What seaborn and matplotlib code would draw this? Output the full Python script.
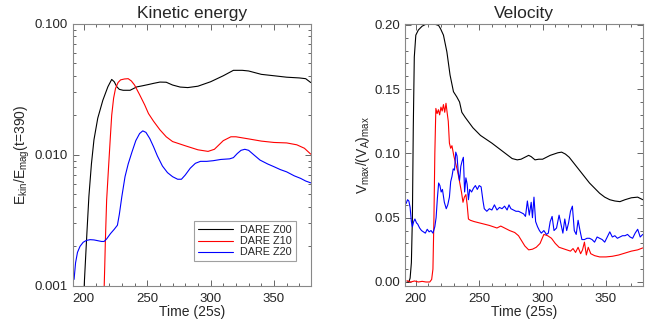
import numpy as np
import pandas as pd
import matplotlib
matplotlib.use('Agg')
import matplotlib.pyplot as plt
import matplotlib.ticker as mticker
import seaborn as sns

# Kinetic energy (left panel)
kin_z00_t = [199.6, 200.5, 201.5, 202.5, 204, 206, 208, 211, 215, 219,
             222, 224, 226, 228, 231, 236.5, 241.8, 246, 251, 255,
             260, 265, 270, 276, 282, 290, 300, 310, 318, 325,
             330, 340, 350, 360, 370, 375, 379]
kin_z00 = [0.0007, 0.0011, 0.0017, 0.0026, 0.0048, 0.0085, 0.013, 0.019, 0.026, 0.033,
           0.0375, 0.036, 0.033, 0.0315, 0.031, 0.031, 0.0329, 0.0335, 0.0343, 0.035,
           0.0358, 0.0357, 0.034, 0.0328, 0.0325, 0.0333, 0.036, 0.040, 0.044, 0.044,
           0.0435, 0.041, 0.040, 0.039, 0.0385, 0.038, 0.0355]

kin_z10_t = [215.8, 216.5, 217, 218, 219.5, 221, 222, 223.5, 225, 227,
             229, 232, 235, 237.5, 240, 244, 248, 251, 255, 260,
             265, 270, 280, 290, 298, 303, 310, 316, 320, 330,
             340, 350, 360, 368, 374, 379]
kin_z10 = [0.0008, 0.0014, 0.0022, 0.0045, 0.008, 0.014, 0.020, 0.027, 0.032, 0.0355,
           0.0372, 0.0378, 0.038, 0.0365, 0.034, 0.0287, 0.024, 0.0206, 0.018, 0.0155,
           0.0137, 0.0126, 0.0117, 0.0109, 0.0106, 0.011, 0.0128, 0.0137, 0.0137, 0.0132,
           0.0127, 0.0124, 0.0123, 0.0119, 0.0112, 0.0101]

kin_z20_t = [192.3, 193.5, 195, 197, 199.5, 202, 205, 208, 211, 214,
             216, 218, 221, 224, 226.5, 228, 230, 232.5, 235, 238,
             241, 244, 246.5, 249, 252, 255, 258, 262, 266, 270,
             274, 277, 280, 284, 288, 292, 297, 302, 308, 315,
             318, 321, 324, 327, 330, 334, 339, 345, 350, 355,
             360, 366, 371, 375, 379]
kin_z20 = [0.00112, 0.0015, 0.0018, 0.002, 0.00215, 0.00222, 0.00225, 0.00224, 0.00221, 0.00218,
           0.00218, 0.00228, 0.0025, 0.0027, 0.0029, 0.0035, 0.0048, 0.0068, 0.0085, 0.0105,
           0.0128, 0.0145, 0.0152, 0.0148, 0.0133, 0.0115, 0.0098, 0.0082, 0.0073, 0.0068,
           0.0065, 0.0065, 0.0070, 0.0079, 0.0086, 0.0089, 0.0089, 0.009, 0.0092, 0.0093,
           0.0095, 0.0102, 0.0108, 0.011, 0.0108, 0.0100, 0.0091, 0.0085, 0.0081, 0.0077,
           0.0074, 0.0069, 0.0066, 0.0063, 0.0061]

# Velocity (right panel)
vel_z00_t = [193, 194.5, 195.5, 196.5, 197.3, 198, 198.8, 200, 202, 205,
             208, 211, 215, 218, 219.5, 221.8, 224.5, 227, 229.7, 232.3,
             234.5, 236.3, 239, 242, 245, 248, 251, 254, 257, 260,
             264, 268, 272, 276, 280, 283, 286, 289, 291, 294,
             297, 300, 303, 306, 309, 312, 315, 318, 321, 325,
             329, 333, 337, 341, 345, 349, 353, 357, 361, 365,
             370, 375, 379]
vel_z00 = [0.0, 0.0, 0.003, 0.015, 0.05, 0.12, 0.175, 0.192, 0.196, 0.199,
           0.2005, 0.201, 0.2005, 0.1995, 0.197, 0.192, 0.179, 0.161, 0.148, 0.144,
           0.140, 0.132, 0.128, 0.124, 0.120, 0.117, 0.114, 0.112, 0.110, 0.108,
           0.105, 0.102, 0.099, 0.096, 0.095, 0.0955, 0.097, 0.0985, 0.0975, 0.095,
           0.0955, 0.0955, 0.097, 0.0985, 0.0995, 0.1005, 0.101, 0.0995, 0.097, 0.092,
           0.087, 0.082, 0.077, 0.073, 0.069, 0.066, 0.064, 0.063, 0.0625, 0.064,
           0.0655, 0.066, 0.064]

vel_z10_t = [193, 196, 199, 202, 205, 208, 211, 212.5, 213.5, 214.3,
             215, 215.8, 216.8, 217.8, 218.8, 219.8, 220.8, 221.8, 222.8, 223.8,
             224.8, 225.6, 226.5, 227.5, 228.5, 230, 231.5, 233, 234.5, 236,
             237.2, 238.3, 239.5, 240.5, 241.5, 243, 246, 250, 254, 258,
             261, 264, 267, 270, 274, 278, 281, 283.5, 286, 289,
             292, 295, 298, 301, 304, 307, 310, 313, 316, 319,
             322, 324, 326, 328, 330, 331.5, 333, 334.5, 336, 338,
             341, 345, 350, 355, 360, 365, 370, 375, 379]
vel_z10 = [0.001, 0.0, 0.0008, 0.0, 0.0005, 0.0, 0.0, 0.002, 0.01, 0.05,
           0.10, 0.135, 0.131, 0.134, 0.130, 0.136, 0.133, 0.138, 0.132, 0.139,
           0.131, 0.125, 0.108, 0.104, 0.106, 0.098, 0.092, 0.086, 0.078, 0.070,
           0.062, 0.066, 0.068, 0.06, 0.049, 0.048, 0.047, 0.046, 0.045, 0.044,
           0.043, 0.042, 0.0435, 0.042, 0.040, 0.0385, 0.036, 0.032, 0.028, 0.025,
           0.0255, 0.027, 0.030, 0.037, 0.036, 0.034, 0.030, 0.027, 0.026, 0.025,
           0.024, 0.026, 0.023, 0.027, 0.022, 0.025, 0.031, 0.021, 0.027, 0.022,
           0.0205, 0.0195, 0.0195, 0.020, 0.021, 0.0225, 0.024, 0.025, 0.0265]

vel_z20_t = [192.3, 193.5, 194.5, 195.5, 196.5, 197.3, 198.3, 199.3, 200.5, 201.5,
             203, 204.5, 206, 207.5, 209, 210.5, 212, 213.5, 215, 216,
             217, 218, 219, 220, 221, 222.5, 224, 225.2, 226.5, 227.5,
             228.5, 229.5, 230.5, 231.5, 232.5, 233.5, 234.5, 235.5, 236.5, 237.5,
             238.5, 239.5, 240.5, 241.5, 242.5, 244, 245.5, 247, 248.5, 250,
             251.5, 253, 254, 256, 258, 260, 262, 264, 266, 268,
             270, 272, 273.5, 275, 277, 279, 281, 283, 285, 286.5,
             288, 289.5, 291, 292, 293.2, 294.5, 296, 297.5, 299, 301,
             303, 304.5, 306, 307.5, 309, 311, 313, 314.5, 316, 317.5,
             319, 320.5, 322, 323.5, 325, 326.5, 328, 329.5, 331, 333,
             335, 337, 339, 341, 343, 345, 347, 349, 351, 353,
             355, 357, 359, 361, 363, 365, 367, 369, 371, 373,
             375, 377, 379]
vel_z20 = [0.061, 0.064, 0.063, 0.058, 0.047, 0.043, 0.047, 0.049, 0.046, 0.045,
           0.042, 0.040, 0.039, 0.038, 0.041, 0.039, 0.040, 0.038, 0.043, 0.050,
           0.065, 0.077, 0.075, 0.070, 0.072, 0.062, 0.057, 0.060, 0.066, 0.078,
           0.082, 0.088, 0.087, 0.101, 0.098, 0.085, 0.079, 0.090, 0.094, 0.097,
           0.070, 0.081, 0.076, 0.064, 0.072, 0.070, 0.073, 0.075, 0.072, 0.075,
           0.074, 0.063, 0.057, 0.055, 0.057, 0.056, 0.060, 0.056, 0.058, 0.057,
           0.059, 0.056, 0.060, 0.057, 0.056, 0.055, 0.055, 0.054, 0.053, 0.051,
           0.063, 0.052, 0.062, 0.050, 0.066, 0.047, 0.043, 0.040, 0.038, 0.040,
           0.037, 0.038, 0.047, 0.051, 0.040, 0.042, 0.052, 0.045, 0.038, 0.049,
           0.040, 0.046, 0.055, 0.059, 0.040, 0.037, 0.048, 0.040, 0.033, 0.033,
           0.034, 0.034, 0.033, 0.031, 0.035, 0.034, 0.033, 0.031, 0.035, 0.039,
           0.035, 0.036, 0.034, 0.035, 0.036, 0.036, 0.037, 0.035, 0.034, 0.038,
           0.041, 0.035, 0.037]

runs = ['DARE Z00', 'DARE Z10', 'DARE Z20']
colors = {'DARE Z00': 'black', 'DARE Z10': '#ff0000', 'DARE Z20': '#0000ff'}


def long_form(pairs):
    frames = []
    for name, (t, v) in zip(runs, pairs):
        frames.append(pd.DataFrame({'t': t, 'v': v, 'run': name}))
    return pd.concat(frames, ignore_index=True)


kin = long_form([(kin_z00_t, kin_z00), (kin_z10_t, kin_z10), (kin_z20_t, kin_z20)])
vel = long_form([(vel_z00_t, vel_z00), (vel_z10_t, vel_z10), (vel_z20_t, vel_z20)])

sns.set_theme(style='ticks')
plt.rcParams['font.family'] = ['Liberation Sans', 'DejaVu Sans']
plt.rcParams['mathtext.fontset'] = 'custom'
plt.rcParams['mathtext.rm'] = 'Liberation Sans'
plt.rcParams['mathtext.it'] = 'Liberation Sans'

fig = plt.figure(figsize=(6.64, 3.32), dpi=100)
ax1 = fig.add_axes([0.110, 0.139, 0.358, 0.790])
ax2 = fig.add_axes([0.610, 0.139, 0.358, 0.790])

sns.lineplot(data=kin, x='t', y='v', hue='run', hue_order=runs, palette=colors,
             linewidth=0.8, ax=ax1, estimator=None)
sns.lineplot(data=vel, x='t', y='v', hue='run', hue_order=runs, palette=colors,
             linewidth=0.8, ax=ax2, estimator=None, legend=False)

ax1.set_yscale('log')
ax1.set_ylim(0.001, 0.1)
ax1.yaxis.set_major_locator(mticker.FixedLocator([0.001, 0.01, 0.1]))
ax1.yaxis.set_major_formatter(mticker.FixedFormatter(['0.001', '0.010', '0.100']))
ax1.yaxis.set_minor_locator(mticker.LogLocator(base=10, subs=np.arange(2, 10)))
ax1.yaxis.set_minor_formatter(mticker.NullFormatter())

ax2.set_ylim(-0.003, 0.201)
ax2.yaxis.set_major_locator(mticker.MultipleLocator(0.05))
ax2.yaxis.set_major_formatter(mticker.FormatStrFormatter('%.2f'))
ax2.yaxis.set_minor_locator(mticker.MultipleLocator(0.01))

for ax, title in [(ax1, 'Kinetic energy'), (ax2, 'Velocity')]:
    ax.set_xlim(191.5, 379)
    ax.xaxis.set_major_locator(mticker.MultipleLocator(50))
    ax.xaxis.set_minor_locator(mticker.MultipleLocator(10))
    ax.set_title(title, fontsize=12.5, pad=4)
    ax.set_xlabel('Time (25s)', fontsize=10, labelpad=0)
    ax.tick_params(which='both', direction='in', top=True, right=True,
                   color='#666666', labelsize=9.5)
    ax.tick_params(which='major', length=4, width=0.7)
    ax.tick_params(which='minor', length=2, width=0.7)
    ax.tick_params(axis='x', pad=5)
    for sp in ax.spines.values():
        sp.set_color('#888888')
        sp.set_linewidth(0.8)

ax1.set_ylabel(r'E$_{\rm kin}$/E$_{\rm mag}$(t=390)', fontsize=10, labelpad=2)
ax2.set_ylabel(r'V$_{\rm max}$/(V$_{\rm A}$)$_{\rm max}$', fontsize=10, labelpad=2)

leg = ax1.legend(loc='lower right', bbox_to_anchor=(0.938, 0.094), borderaxespad=0,
                 fontsize=7.8, frameon=True, fancybox=False, handlelength=3.2,
                 handletextpad=0.7, borderpad=0.35, labelspacing=0.1)
leg.get_frame().set_edgecolor('#888888')
leg.get_frame().set_linewidth(0.8)
for line in leg.get_lines():
    line.set_linewidth(0.8)

fig.savefig('out.png', dpi=100)
